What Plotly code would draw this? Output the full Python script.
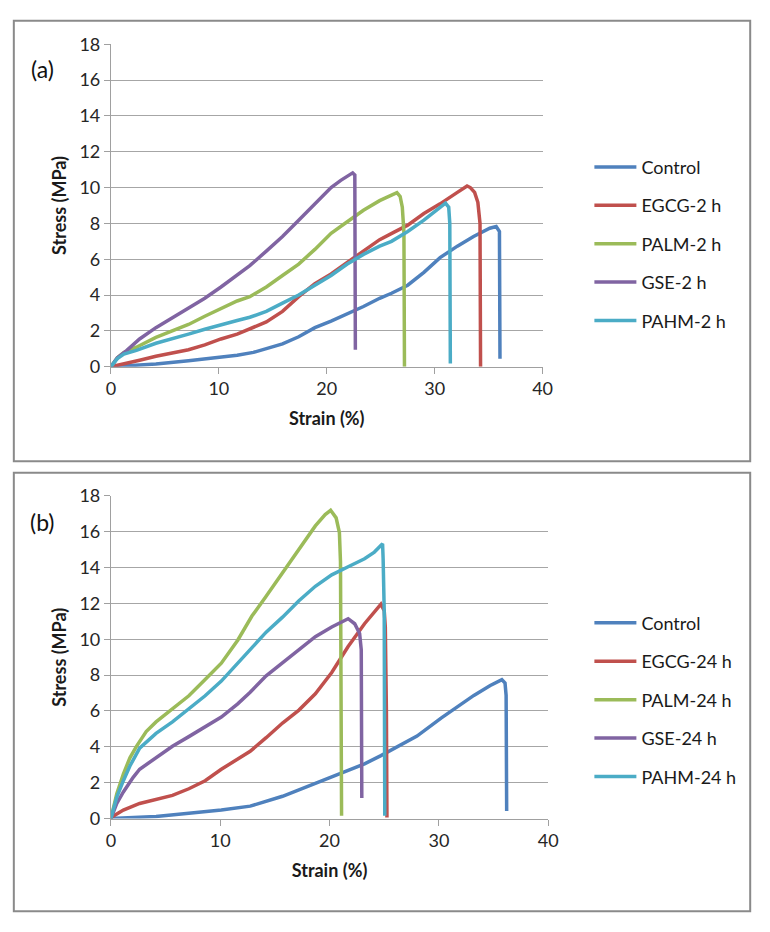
import plotly.graph_objects as go

# ---------------- Panel (a): 2 h ----------------
control_2h_x = [0, 1.45, 4.17, 7.19, 10.2, 11.7, 13.2, 14.4, 15.9, 17.4, 18.9, 20.4, 21.9, 23.4, 24.9, 26.0, 27.5, 29.0, 30.5, 32.1, 33.6, 35.1, 35.7, 36.0, 36.05]
control_2h_y = [0, 0.04, 0.15, 0.33, 0.51, 0.64, 0.8, 1.0, 1.27, 1.67, 2.18, 2.55, 2.95, 3.36, 3.82, 4.1, 4.55, 5.27, 6.09, 6.73, 7.27, 7.73, 7.82, 7.55, 0.45]

egcg_2h_x = [0, 1.45, 2.66, 4.17, 5.68, 7.19, 8.7, 10.2, 11.7, 13.2, 14.4, 15.9, 17.4, 18.9, 20.4, 21.9, 23.4, 24.9, 26.2, 27.5, 29.0, 30.5, 32.1, 32.6, 33.0, 33.3, 33.7, 34.0, 34.2, 34.25]
egcg_2h_y = [0, 0.22, 0.36, 0.58, 0.76, 0.95, 1.22, 1.55, 1.82, 2.2, 2.5, 3.09, 3.91, 4.64, 5.18, 5.82, 6.45, 7.09, 7.5, 7.9, 8.55, 9.09, 9.73, 9.95, 10.09, 10.0, 9.73, 9.18, 8.0, 0]

palm_2h_x = [0, 0.6, 1.2, 2.36, 4.17, 5.68, 7.19, 8.7, 10.2, 11.7, 12.87, 14.4, 15.9, 17.4, 18.9, 20.4, 21.9, 23.4, 24.9, 26.0, 26.5, 26.8, 27.0, 27.15, 27.2]
palm_2h_y = [0, 0.5, 0.8, 1.09, 1.64, 2.0, 2.36, 2.82, 3.27, 3.67, 3.91, 4.45, 5.09, 5.73, 6.55, 7.45, 8.09, 8.73, 9.27, 9.6, 9.72, 9.5, 8.9, 7.5, 0]

gse_2h_x = [0, 0.6, 1.45, 2.66, 4.17, 5.68, 7.19, 8.7, 10.2, 11.7, 12.87, 14.4, 15.9, 17.4, 18.9, 20.4, 21.3, 21.9, 22.4, 22.6, 22.65]
gse_2h_y = [0, 0.5, 0.9, 1.55, 2.18, 2.73, 3.27, 3.82, 4.45, 5.09, 5.64, 6.45, 7.27, 8.18, 9.09, 10.0, 10.4, 10.64, 10.82, 10.7, 0.95]

pahm_2h_x = [0, 0.6, 1.2, 2.36, 4.17, 5.68, 7.19, 8.7, 10.2, 11.7, 12.87, 14.4, 15.9, 17.4, 18.9, 20.4, 21.9, 23.4, 24.9, 26.0, 27.5, 29.0, 30.5, 31.0, 31.3, 31.4, 31.45]
pahm_2h_y = [0, 0.45, 0.7, 0.91, 1.31, 1.55, 1.82, 2.09, 2.36, 2.58, 2.76, 3.09, 3.55, 4.0, 4.55, 5.09, 5.73, 6.27, 6.73, 7.0, 7.55, 8.18, 8.9, 9.13, 8.9, 8.0, 0.18]

# ---------------- Panel (b): 24 h ----------------
control_24h_x = [0, 1.1, 4.13, 7.13, 10.1, 12.74, 15.7, 18.7, 20.2, 21.7, 23.2, 24.7, 25.74, 28.0, 30.2, 31.7, 33.2, 34.7, 35.76, 36.05, 36.15, 36.2]
control_24h_y = [0, 0.02, 0.11, 0.29, 0.47, 0.69, 1.24, 1.96, 2.33, 2.69, 3.05, 3.51, 3.87, 4.6, 5.6, 6.24, 6.87, 7.42, 7.75, 7.56, 6.87, 0.42]

egcg_24h_x = [0, 1.14, 2.63, 4.13, 5.63, 7.13, 8.62, 10.1, 11.6, 12.74, 14.2, 15.7, 17.2, 18.7, 20.2, 21.7, 23.2, 24.7, 25.0, 25.1, 25.2, 25.25]
egcg_24h_y = [0.05, 0.47, 0.84, 1.06, 1.29, 1.66, 2.11, 2.75, 3.3, 3.75, 4.51, 5.33, 6.05, 6.96, 8.15, 9.6, 10.87, 11.96, 11.6, 10.7, 6.0, 0.05]

palm_24h_x = [0, 0.54, 1.14, 1.74, 2.34, 3.23, 4.13, 5.63, 7.13, 8.62, 10.1, 11.6, 12.9, 14.2, 15.7, 17.2, 18.7, 19.6, 20.1, 20.6, 20.9, 21.0, 21.1]
palm_24h_y = [0, 1.38, 2.48, 3.39, 4.03, 4.85, 5.39, 6.12, 6.85, 7.76, 8.67, 9.95, 11.3, 12.4, 13.69, 14.96, 16.33, 16.96, 17.2, 16.78, 15.96, 14.33, 0.15]

gse_24h_x = [0, 0.54, 1.14, 2.04, 2.63, 4.13, 5.63, 7.13, 8.62, 10.1, 11.6, 12.74, 14.2, 15.7, 17.2, 18.7, 20.2, 21.1, 21.7, 22.3, 22.75, 22.9, 22.95]
gse_24h_y = [0, 0.84, 1.48, 2.3, 2.75, 3.39, 4.03, 4.57, 5.12, 5.66, 6.4, 7.05, 7.96, 8.69, 9.42, 10.15, 10.69, 10.96, 11.15, 10.87, 10.33, 9.42, 1.15]

pahm_24h_x = [0, 0.54, 1.14, 1.74, 2.63, 4.13, 5.63, 7.13, 8.62, 10.1, 11.6, 12.9, 14.2, 15.7, 17.2, 18.7, 20.2, 21.7, 23.2, 24.1, 24.7, 24.85, 24.9, 25.0, 25.05]
pahm_24h_y = [0, 1.2, 2.11, 2.93, 3.93, 4.75, 5.39, 6.12, 6.85, 7.67, 8.67, 9.6, 10.4, 11.24, 12.15, 12.96, 13.6, 14.05, 14.5, 14.87, 15.24, 15.33, 14.5, 11.6, 0.15]

names_a = ["Control", "EGCG-2 h", "PALM-2 h", "GSE-2 h", "PAHM-2 h"]
names_b = ["Control", "EGCG-24 h", "PALM-24 h", "GSE-24 h", "PAHM-24 h"]
colors = ["#4F81BD", "#C0504D", "#9BBB59", "#8064A2", "#4BACC6"]

y_ticks = [0, 2, 4, 6, 8, 10, 12, 14, 16, 18]
x_ticks = [0, 10, 20, 30, 40]

W, H = 770, 932
FONT = "Lato, 'Open Sans', sans-serif"

series_a = [(control_2h_x, control_2h_y), (egcg_2h_x, egcg_2h_y), (palm_2h_x, palm_2h_y),
            (gse_2h_x, gse_2h_y), (pahm_2h_x, pahm_2h_y)]
series_b = [(control_24h_x, control_24h_y), (egcg_24h_x, egcg_24h_y), (palm_24h_x, palm_24h_y),
            (gse_24h_x, gse_24h_y), (pahm_24h_x, pahm_24h_y)]

fig = go.Figure()
for i, ((xs, ys), nm) in enumerate(zip(series_a, names_a)):
    fig.add_trace(go.Scatter(x=xs, y=ys, mode="lines", name=nm, xaxis="x", yaxis="y",
                             line=dict(color=colors[i], width=3.5), legend="legend",
                             legendgroup="a%d" % i))
for i, ((xs, ys), nm) in enumerate(zip(series_b, names_b)):
    fig.add_trace(go.Scatter(x=xs, y=ys, mode="lines", name=nm, xaxis="x2", yaxis="y2",
                             line=dict(color=colors[i], width=3.5), legend="legend2",
                             legendgroup="b%d" % i))

def px(x):
    return x / W

def py(y):
    return 1 - y / H

axis_common = dict(showline=True, linecolor="#A0A0A0", linewidth=1, ticks="outside",
                   tickcolor="#A0A0A0", ticklen=6, tickfont=dict(family=FONT, size=18, color="#262626"),
                   zeroline=False)
xa = dict(axis_common, range=[0, 40], tickvals=x_ticks, showgrid=False,
          title=dict(text="<b>Strain (%)</b>", font=dict(family=FONT, size=18, color="#1a1a1a"), standoff=14))
ya = dict(axis_common, range=[0, 18], tickvals=y_ticks, showgrid=True, gridcolor="#A6A6A6", gridwidth=1,
          title=dict(text="<b>Stress (MPa)</b>", font=dict(family=FONT, size=18, color="#1a1a1a"), standoff=8))

fig.update_layout(
    width=W, height=H,
    margin=dict(l=0, r=0, t=0, b=0),
    paper_bgcolor="white", plot_bgcolor="white",
    showlegend=True,
    xaxis=dict(xa, domain=[px(108), px(548.3)], anchor="y"),
    yaxis=dict(ya, domain=[py(363.3), py(33)], anchor="x"),
    xaxis2=dict(xa, domain=[px(108), px(554)], anchor="y2"),
    yaxis2=dict(ya, domain=[py(826), py(495.7)], anchor="x2"),
    legend=dict(x=px(596), y=py(140), xanchor="left", yanchor="top",
                font=dict(family=FONT, size=18, color="#1a1a1a"), tracegroupgap=12,
                bgcolor="rgba(0,0,0,0)", itemwidth=42),
    legend2=dict(x=px(596), y=py(607), xanchor="left", yanchor="top",
                 font=dict(family=FONT, size=18, color="#1a1a1a"), tracegroupgap=12,
                 bgcolor="rgba(0,0,0,0)", itemwidth=42),
    shapes=[
        dict(type="rect", xref="paper", yref="paper", x0=px(9), x1=px(760), y0=py(460), y1=py(9),
             line=dict(color="#8A8A8A", width=2), fillcolor="rgba(0,0,0,0)", layer="below"),
        dict(type="rect", xref="paper", yref="paper", x0=px(9), x1=px(760), y0=py(921), y1=py(472),
             line=dict(color="#8A8A8A", width=2), fillcolor="rgba(0,0,0,0)", layer="below"),
    ],
    annotations=[
        dict(text="(a)", x=px(38), y=py(58), xref="paper", yref="paper", showarrow=False,
             font=dict(family=FONT, size=23, color="#111"), xanchor="center", yanchor="middle"),
        dict(text="(b)", x=px(38), y=py(522), xref="paper", yref="paper", showarrow=False,
             font=dict(family=FONT, size=23, color="#111"), xanchor="center", yanchor="middle"),
    ],
)

fig.write_html("out.html",
               config={"displayModeBar": False},
               post_script="document.body.style.margin='0';document.body.style.padding='0';"
                           "document.documentElement.style.overflow='hidden';")
